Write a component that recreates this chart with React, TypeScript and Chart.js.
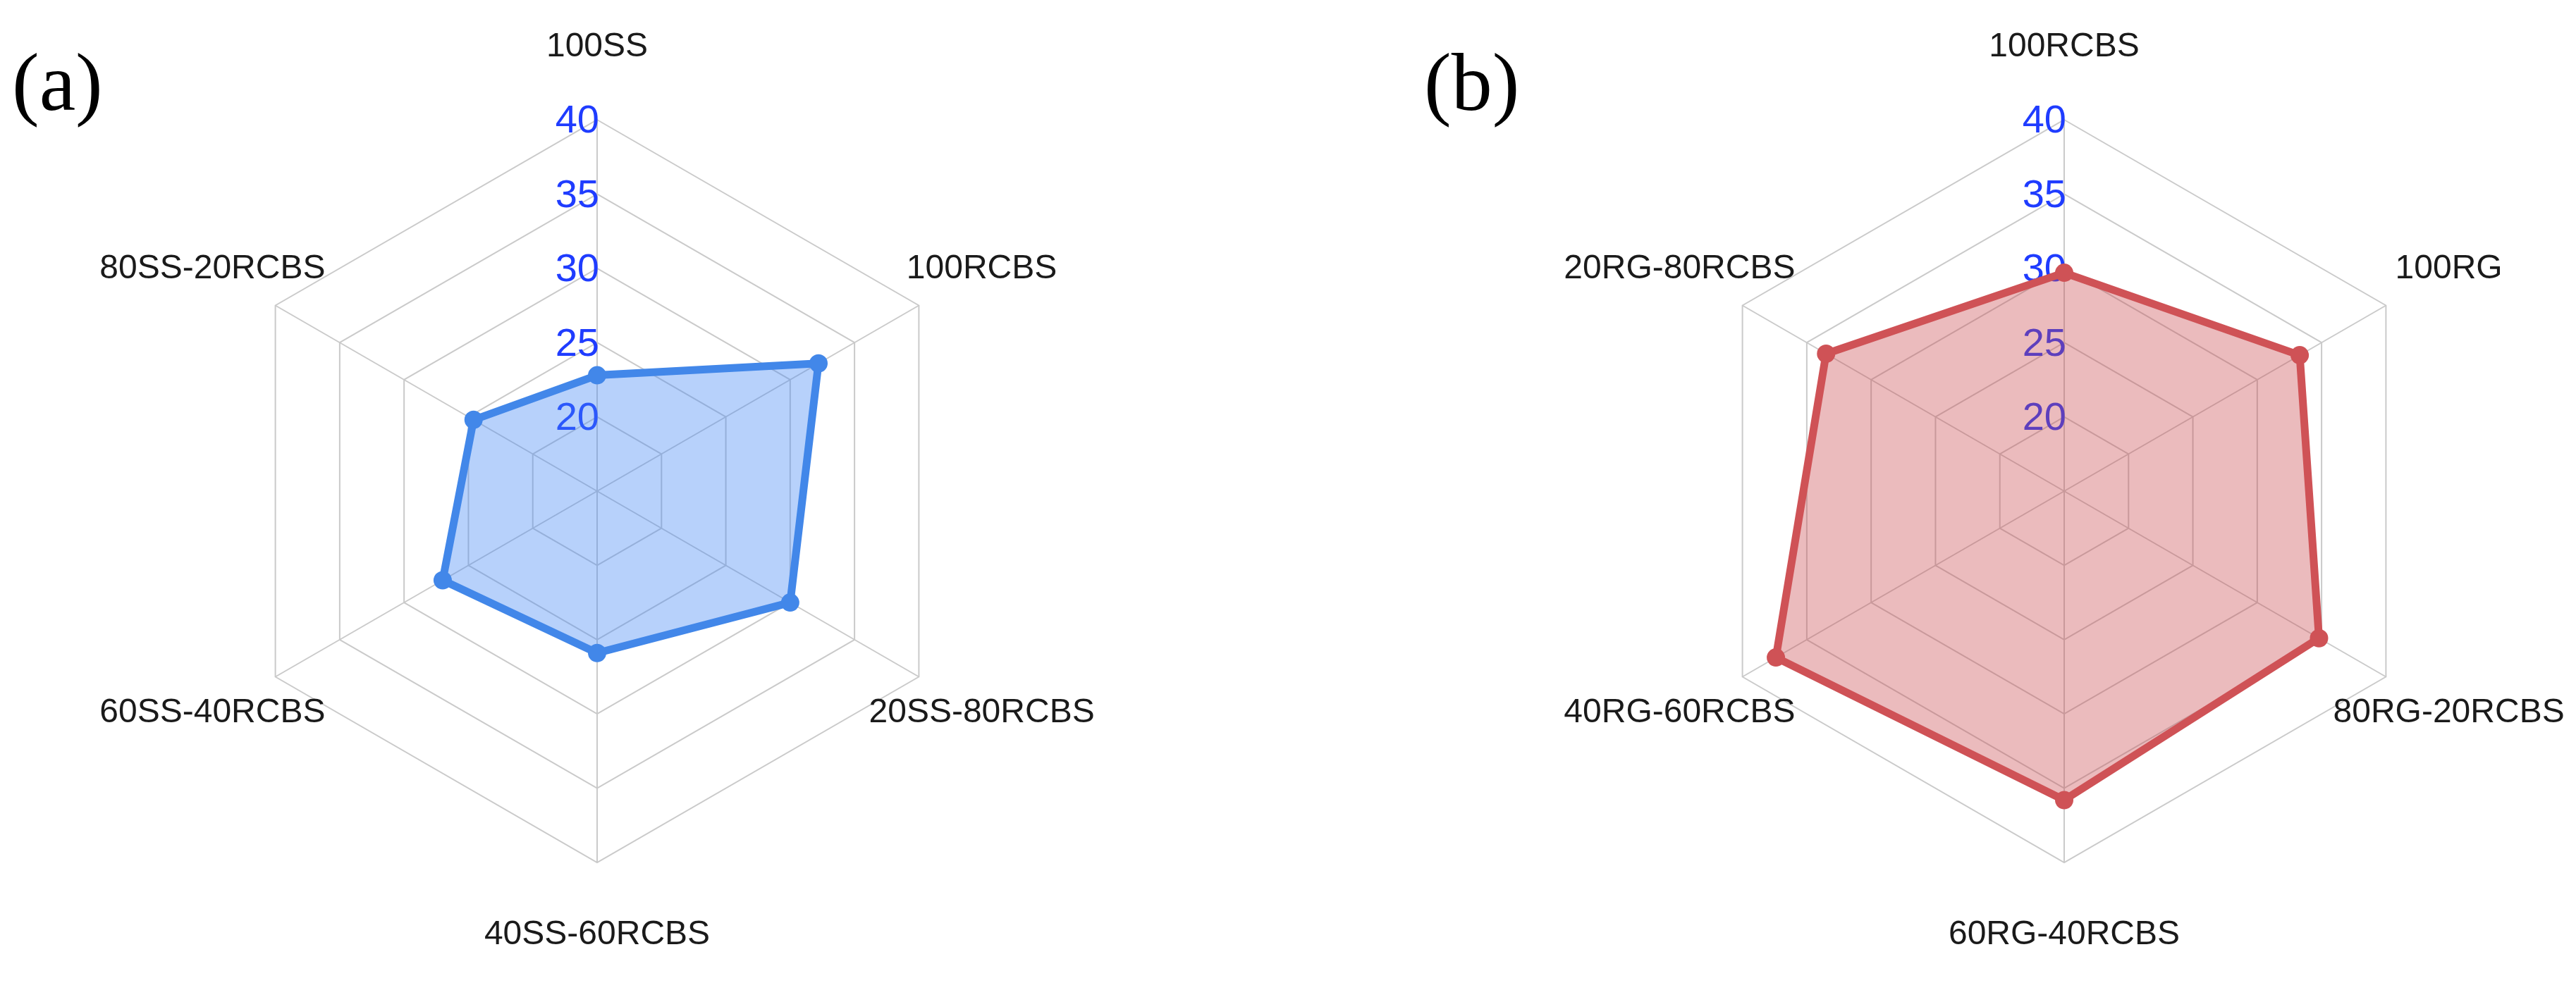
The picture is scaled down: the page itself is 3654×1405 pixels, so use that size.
import React, { useEffect, useRef } from "react";
import { Chart, registerables } from "chart.js";

Chart.register(...registerables);

// ---- data ----
const categoriesA = ["100SS", "100RCBS", "20SS-80RCBS", "40SS-60RCBS", "60SS-40RCBS", "80SS-20RCBS"];
const valuesA = [22.8, 32.2, 30.0, 25.9, 27.0, 24.6];

const categoriesB = ["100RCBS", "100RG", "80RG-20RCBS", "60RG-40RCBS", "40RG-60RCBS", "20RG-80RCBS"];
const valuesB = [29.7, 33.3, 34.8, 35.8, 37.4, 33.5];

const scaleMin = 15;
const scaleMax = 40;
const scaleStep = 5;

const panelTitles = ["(a)", "(b)"];

// ---- style ----
const TICK_COLOR = "#1f3cff";
const LABEL_COLOR = "#1a1a1a";
const GRID_COLOR = "#cacaca";
const LABEL_FONT = '48px "Liberation Sans", Arial, sans-serif';
const TICK_FONT = '56px "Liberation Sans", Arial, sans-serif';
const LABEL_OFFSET = 103;

const tickLabelPlugin = {
  id: "tickLabelPlugin",
  beforeDatasetsDraw(chart: any) {
    const s = chart.scales.r;
    const ctx = chart.ctx;
    ctx.save();
    ctx.font = TICK_FONT;
    ctx.fillStyle = TICK_COLOR;
    ctx.textAlign = "right";
    ctx.textBaseline = "middle";
    s.ticks.forEach((t: any, i: number) => {
      if (i === 0) return;
      const d = s.getDistanceFromCenterForValue(t.value);
      ctx.fillText(String(t.value), s.xCenter + 3, s.yCenter - d + 3);
    });
    ctx.restore();
  },
};

const pointLabelPlugin = {
  id: "pointLabelPlugin",
  afterDatasetsDraw(chart: any) {
    const s = chart.scales.r;
    const ctx = chart.ctx;
    const labels: string[] = chart.data.labels;
    ctx.save();
    ctx.font = LABEL_FONT;
    ctx.fillStyle = LABEL_COLOR;
    ctx.textAlign = "center";
    ctx.textBaseline = "middle";
    labels.forEach((lab, i) => {
      const p = s.getPointPosition(i, s.drawingArea + LABEL_OFFSET);
      ctx.fillText(lab, p.x, p.y);
    });
    ctx.restore();
  },
};

type RadarProps = {
  labels: string[];
  values: number[];
  border: string;
  fill: string;
  padding: { left: number; right: number; top: number; bottom: number };
  left: number;
};

function RadarPanel({ labels, values, border, fill, padding, left }: RadarProps) {
  const ref = useRef<HTMLCanvasElement | null>(null);
  useEffect(() => {
    if (!ref.current) return;
    const chart = new Chart(ref.current, {
      type: "radar",
      data: {
        labels,
        datasets: [
          {
            data: values,
            borderColor: border,
            backgroundColor: fill,
            borderWidth: 11,
            borderJoinStyle: "round",
            pointRadius: 13,
            pointBorderWidth: 0,
            pointBackgroundColor: border,
            fill: true,
          },
        ],
      },
      options: {
        responsive: false,
        animation: false,
        devicePixelRatio: 1,
        layout: { padding },
        plugins: { legend: { display: false }, tooltip: { enabled: false } },
        scales: {
          r: {
            min: scaleMin,
            max: scaleMax,
            ticks: { stepSize: scaleStep, display: false },
            pointLabels: { display: false },
            grid: { color: GRID_COLOR, lineWidth: 2, circular: false },
            angleLines: { color: GRID_COLOR, lineWidth: 2 },
          },
        },
      } as any,
      plugins: [tickLabelPlugin, pointLabelPlugin],
    });
    return () => chart.destroy();
  }, []);
  return (
    <canvas
      ref={ref}
      width={1827}
      height={1405}
      style={{ position: "absolute", left, top: 0, width: 1827, height: 1405 }}
    />
  );
}

export default function App() {
  const titleStyle: React.CSSProperties = {
    position: "absolute",
    top: 59,
    font: '116px "Liberation Serif", "Times New Roman", serif',
    color: "#000",
    lineHeight: "116px",
    margin: 0,
  };
  return (
    <div style={{ position: "absolute", left: 0, top: 0, width: 3654, height: 1405, background: "#fff", overflow: "hidden" }}>
      <RadarPanel
        labels={categoriesA}
        values={valuesA}
        border="#4287e9"
        fill="rgba(66,133,244,0.38)"
        padding={{ left: 320, right: 453, top: 170, bottom: 181 }}
        left={0}
      />
      <RadarPanel
        labels={categoriesB}
        values={valuesB}
        border="#cf5256"
        fill="rgba(200,70,75,0.37)"
        padding={{ left: 574, right: 199, top: 170, bottom: 181 }}
        left={1827}
      />
      <div style={{ ...titleStyle, left: 17 }}>{panelTitles[0]}</div>
      <div style={{ ...titleStyle, left: 2020 }}>{panelTitles[1]}</div>
    </div>
  );
}
